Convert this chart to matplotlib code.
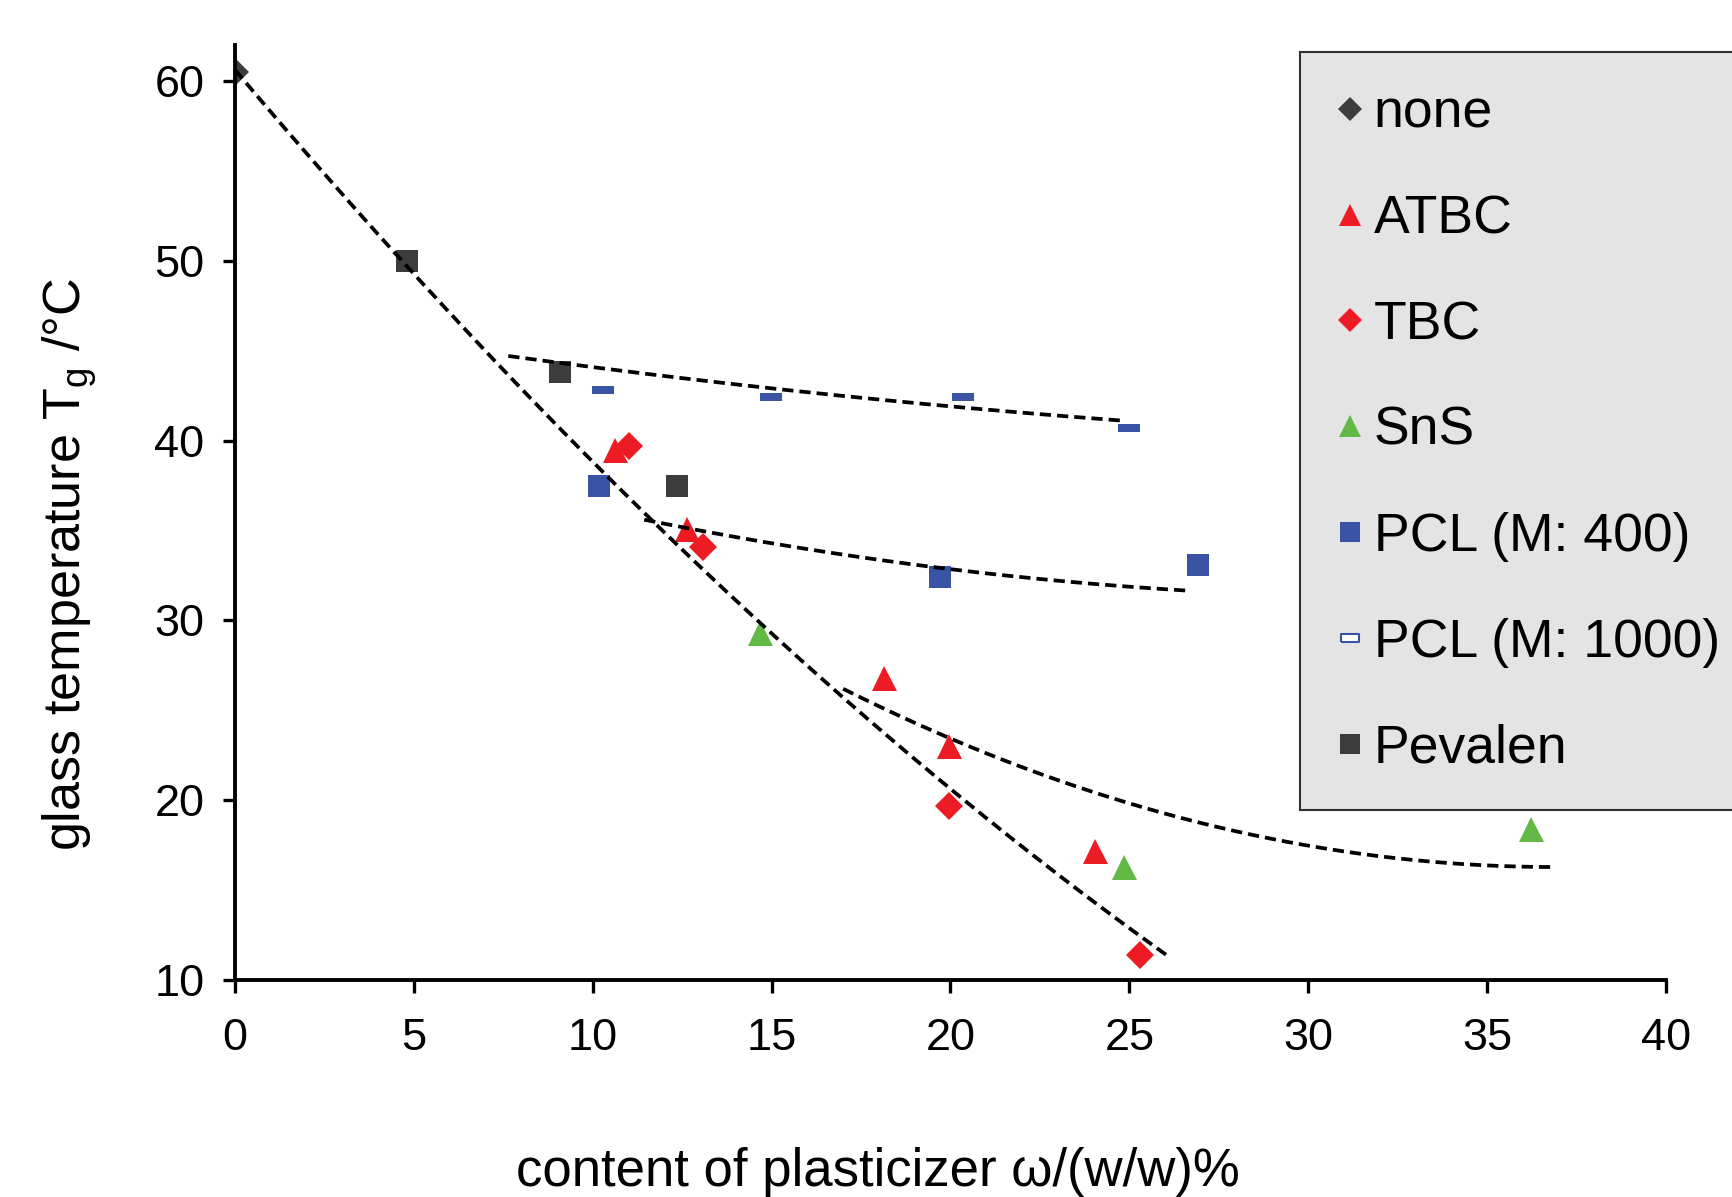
import numpy as np
import matplotlib
matplotlib.use('Agg')
import matplotlib.pyplot as plt
from matplotlib.lines import Line2D

plt.rcParams['font.family'] = ['Liberation Sans', 'DejaVu Sans']
plt.rcParams['mathtext.default'] = 'regular'

# measured points, content in (w/w)% and Tg in degC
none_x = [0.0]
none_y = [60.5]
atbc_x = [10.63, 12.64, 18.15, 19.97, 24.05]
atbc_y = [39.5, 35.1, 26.8, 23.0, 17.2]
tbc_x = [11.0, 13.08, 19.97, 25.29]
tbc_y = [39.7, 34.1, 19.7, 11.4]
sns_x = [14.68, 24.85, 36.23]
sns_y = [29.3, 16.3, 18.4]
pcl400_x = [10.17, 19.72, 26.92]
pcl400_y = [37.5, 32.4, 33.1]
pcl1000_x = [10.29, 14.99, 20.34, 24.98]
pcl1000_y = [42.8, 42.4, 42.4, 40.7]
pevalen_x = [4.82, 9.09, 12.36]
pevalen_y = [50.0, 43.8, 37.5]

# 2nd order trendlines: (x from, x to, [c2, c1, c0])
trend_ranges = [(0.0, 26.1), (7.64, 24.85), (11.44, 26.7), (17.0, 36.8)]
trend_coefs = [
    [0.018, -2.358, 60.6],
    [0.0036, -0.3261, 46.98],
    [0.0093, -0.6135, 41.40],
    [0.02505, -1.848, 50.38],
]

dark = '#3c3c3c'
red = '#ed1c24'
green = '#62b946'
blue = '#3a53a4'
dash_marker = [(-1, -0.38), (1, -0.38), (1, 0.38), (-1, 0.38), (-1, -0.38)]

fig = plt.figure(figsize=(17.33, 11.97), dpi=100)
ax = fig.add_axes([0.1356, 0.181, 0.8257, 0.7817])

ax.plot(none_x, none_y, 'D', color=dark, ms=14, mew=0, label='none')
ax.plot(atbc_x, atbc_y, '^', color=red, ms=18, mew=0, label='ATBC')
ax.plot(tbc_x, tbc_y, 'D', color=red, ms=14, mew=0, label='TBC')
ax.plot(sns_x, sns_y, '^', color=green, ms=18, mew=0, label='SnS')
ax.plot(pcl400_x, pcl400_y, 's', color=blue, ms=16.5, mew=0, label='PCL (M: 400)')
ax.plot(pcl1000_x, pcl1000_y, ls='none', marker=dash_marker, color=blue, ms=16, mew=0,
        label='PCL (M: 1000)')
ax.plot(pevalen_x, pevalen_y, 's', color=dark, ms=16.5, mew=0, label='Pevalen')

for (x0, x1), c in zip(trend_ranges, trend_coefs):
    xs = np.linspace(x0, x1, 200)
    ax.plot(xs, np.polyval(c, xs), color='black', lw=2.7, ls=(0, (3.0, 1.6)), zorder=5)

ax.set_xlim(0, 40)
ax.set_ylim(10, 62)
ax.set_xticks(np.arange(0, 41, 5))
ax.set_yticks(np.arange(10, 61, 10))
for s in ['top', 'right']:
    ax.spines[s].set_visible(False)
for s in ['left', 'bottom']:
    ax.spines[s].set_linewidth(2.8)
ax.tick_params(direction='out', length=9, width=2.4, labelsize=32.5, colors='black')
ax.tick_params(axis='y', pad=13)
ax.tick_params(axis='x', pad=18)

ax.set_xlabel('content of plasticizer \u03c9/(w/w)%', fontsize=38)
ax.set_ylabel('glass temperature T$_g$ /\u00b0C', fontsize=37.5)
ax.xaxis.set_label_coords(0.449, -0.178)
ax.yaxis.set_label_coords(-0.095, 0.445)

handles, labels = ax.get_legend_handles_labels()
handles[5] = Line2D([], [], ls='none', marker=dash_marker, ms=16, mfc='white',
                    mec=blue, mew=1.5)
leg = ax.legend(handles, labels, loc='upper left',
                bbox_to_anchor=(1300 / 1733, 1 - 52 / 1197), bbox_transform=fig.transFigure,
                fontsize=38.5, frameon=True, fancybox=False, borderaxespad=0,
                borderpad=0.68, labelspacing=1.045, handlelength=0.5, handletextpad=0.2,
                markerscale=0.85)
leg.get_frame().set_facecolor('#e4e4e4')
leg.get_frame().set_edgecolor('#303030')
leg.get_frame().set_linewidth(1.5)
leg.get_frame().set_alpha(1)

fig.savefig('out.png', dpi=100)
